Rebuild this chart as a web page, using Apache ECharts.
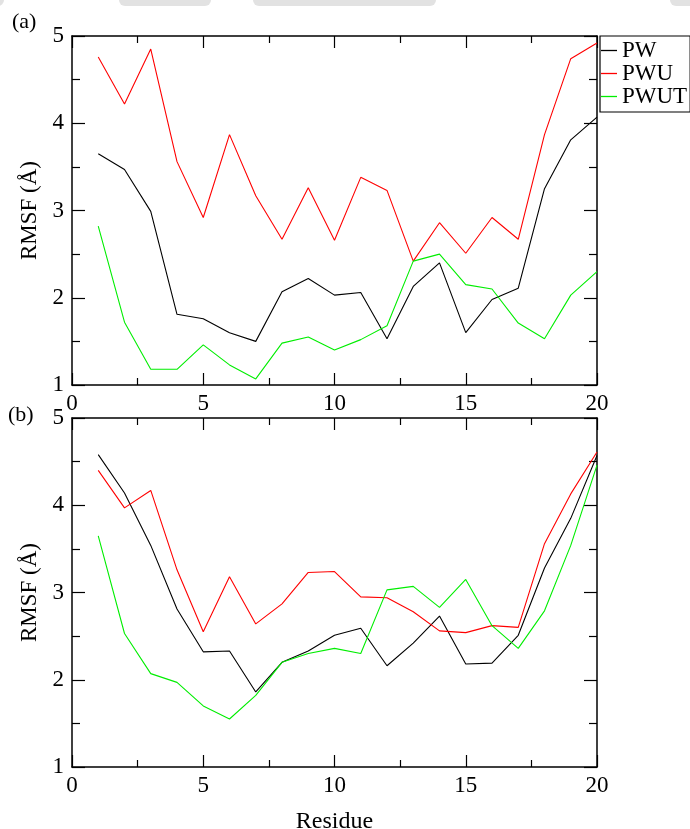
<!DOCTYPE html>
<html>
<head>
<meta charset="utf-8">
<style>
  html, body { margin: 0; padding: 0; background: #fff; }
  #chart { width: 690px; height: 829px; }
</style>
<script src="https://cdn.jsdelivr.net/npm/echarts@6/dist/echarts.min.js"></script>
</head>
<body>
<div id="chart"></div>
<script>
// Residue numbers along the x axis
const residues = [1,2,3,4,5,6,7,8,9,10,11,12,13,14,15,16,17,18,19,20];

// Panel (a) RMSF values (Å)
const pwA   = [3.65,3.47,2.99,1.81,1.76,1.60,1.50,2.07,2.22,2.03,2.06,1.53,2.13,2.40,1.60,1.98,2.11,3.25,3.81,4.07];
const pwuA  = [4.76,4.22,4.85,3.56,2.92,3.87,3.17,2.67,3.26,2.66,3.38,3.23,2.42,2.86,2.51,2.92,2.67,3.87,4.74,4.92];
const pwutA = [2.82,1.72,1.18,1.18,1.46,1.23,1.07,1.48,1.55,1.40,1.52,1.68,2.42,2.50,2.15,2.10,1.71,1.53,2.03,2.30];

// Panel (b) RMSF values (Å)
const pwB   = [4.58,4.14,3.54,2.81,2.32,2.33,1.86,2.20,2.33,2.51,2.59,2.16,2.42,2.73,2.18,2.19,2.51,3.28,3.85,4.57];
const pwuB  = [4.40,3.97,4.17,3.26,2.55,3.18,2.64,2.87,3.23,3.24,2.95,2.94,2.78,2.56,2.54,2.62,2.60,3.56,4.13,4.61];
const pwutB = [3.65,2.53,2.07,1.97,1.70,1.55,1.82,2.20,2.30,2.36,2.30,3.03,3.07,2.83,3.15,2.62,2.36,2.79,3.54,4.46];

const seriesNames = ['PW', 'PWU', 'PWUT'];
const seriesColors = ['#000000', '#ff0000', '#00ee00'];

const FONT = '"Liberation Serif", "DejaVu Serif", serif';
const FS = 23;

const pairs = (ys) => residues.map((x, i) => [x, ys[i]]);

function xAxes(gridIndex, name) {
  const common = {
    type: 'value', min: 0, max: 20, interval: 5, gridIndex,
    axisLine: { show: true, onZero: false, lineStyle: { color: '#000', width: 1.5 } },
    axisTick: { show: true, inside: true, length: 12, lineStyle: { color: '#000', width: 1.2 } },
    minorTick: { show: true, splitNumber: 2, length: 7, lineStyle: { color: '#000', width: 1.2 } },
    splitLine: { show: false }
  };
  return [
    Object.assign({}, common, {
      position: 'bottom',
      axisLabel: { show: true, color: '#000', fontFamily: FONT, fontSize: FS, margin: 7 },
      name: name || '', nameLocation: 'middle', nameGap: 43,
      nameTextStyle: { color: '#000', fontFamily: FONT, fontSize: 24 }
    }),
    Object.assign({}, common, { position: 'top', axisLabel: { show: false } })
  ];
}

function yAxes(gridIndex) {
  const common = {
    type: 'value', min: 1, max: 5, interval: 1, gridIndex,
    axisLine: { show: true, onZero: false, lineStyle: { color: '#000', width: 1.5 } },
    axisTick: { show: true, inside: true, length: 13, lineStyle: { color: '#000', width: 1.2 } },
    minorTick: { show: true, splitNumber: 2, length: 8, lineStyle: { color: '#000', width: 1.2 } },
    splitLine: { show: false }
  };
  return [
    Object.assign({}, common, {
      position: 'left',
      axisLabel: { color: '#000', fontFamily: FONT, fontSize: FS, margin: 8 },
      name: 'RMSF (Å)', nameLocation: 'middle', nameGap: 27,
      nameTextStyle: { color: '#000', fontFamily: FONT, fontSize: FS }
    }),
    Object.assign({}, common, { position: 'right', axisLabel: { show: false } })
  ];
}

function lineSeries(data, idx, axisBase) {
  return {
    type: 'line', name: seriesNames[idx],
    xAxisIndex: axisBase, yAxisIndex: axisBase,
    data: pairs(data), symbol: 'none', silent: true, animation: false,
    lineStyle: { color: seriesColors[idx], width: 1.1 },
    itemStyle: { color: seriesColors[idx] }
  };
}

const chart = echarts.init(document.getElementById('chart'), null, { renderer: 'canvas' });

chart.setOption({
  backgroundColor: '#ffffff',
  animation: false,
  grid: [
    { left: 72, top: 36, width: 525, height: 349, outerBoundsMode: 'none', containLabel: false },
    { left: 72, top: 418, width: 525, height: 349, outerBoundsMode: 'none', containLabel: false }
  ],
  xAxis: [...xAxes(0), ...xAxes(1, 'Residue')],
  yAxis: [...yAxes(0), ...yAxes(1)],
  legend: {
    data: seriesNames,
    orient: 'vertical',
    left: 600, top: 36,
    padding: [3, 3, 4, 1],
    itemGap: 0,
    icon: 'rect',
    itemWidth: 16, itemHeight: 1.3,
    borderColor: '#000', borderWidth: 1.2,
    textStyle: { color: '#000', fontFamily: FONT, fontSize: FS, lineHeight: 20.5 },
    selectedMode: false
  },
  graphic: [
    { type: 'text', left: 12, top: 11, style: { text: '(a)', font: '22px ' + FONT, fill: '#000' } },
    { type: 'text', left: 8, top: 404, style: { text: '(b)', font: '22px ' + FONT, fill: '#000' } },
    { type: 'rect', shape: { x: 119, y: -6, width: 92, height: 12, r: 6 }, style: { fill: '#e2e2e2' } },
    { type: 'rect', shape: { x: 253, y: -6, width: 183, height: 12, r: 6 }, style: { fill: '#e2e2e2' } },
    { type: 'rect', shape: { x: 670, y: -6, width: 40, height: 12, r: 6 }, style: { fill: '#e2e2e2' } },
    { type: 'rect', shape: { x: -20, y: -6, width: 24, height: 12, r: 6 }, style: { fill: '#e2e2e2' } }
  ],
  series: [
    lineSeries(pwA, 0, 0), lineSeries(pwuA, 1, 0), lineSeries(pwutA, 2, 0),
    lineSeries(pwB, 0, 2), lineSeries(pwuB, 1, 2), lineSeries(pwutB, 2, 2)
  ]
});
</script>
</body>
</html>
